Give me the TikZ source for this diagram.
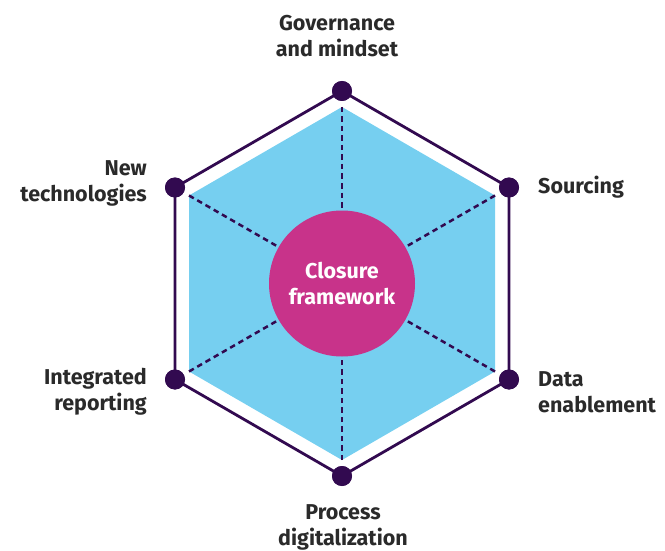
\documentclass[tikz,border=0pt]{standalone}
\usepackage{fontspec}
\setmainfont{Fira Sans}
\definecolor{hexline}{HTML}{320A50}
\definecolor{hexfill}{HTML}{76CFF0}
\definecolor{core}{HTML}{C8338A}
\definecolor{labeltext}{HTML}{2A2A2A}
\begin{document}
\begin{tikzpicture}[x=1pt,y=-1pt,
  dot/.style={circle,fill=hexline,inner sep=0pt,minimum size=20pt},
  lbl/.style={font=\fontsize{21.5}{26}\selectfont\bfseries,text=labeltext,align=center,inner sep=0pt},
  spoke/.style={hexline,line width=2.5pt,dash pattern=on 5.5pt off 4pt}]
\useasboundingbox (0,0) rectangle (665,551);
% outer hexagon vertices as dots
\node[dot] (t) at (342,91) {};
\node[dot] (ur) at (509,187.5) {};
\node[dot] (lr) at (509,379.5) {};
\node[dot] (b) at (342,476) {};
\node[dot] (ll) at (175,379.5) {};
\node[dot] (ul) at (175,187.5) {};
% inner hexagon
\coordinate (it) at (342,107);
\coordinate (iur) at (495,195.5);
\coordinate (ilr) at (495,371.5);
\coordinate (ib) at (342,460);
\coordinate (ill) at (189,371.5);
\coordinate (iul) at (189,195.5);
\fill[hexfill] (it) -- (iur) -- (ilr) -- (ib) -- (ill) -- (iul) -- cycle;
\draw[hexline,line width=2.8pt,line join=miter] (t.center) -- (ur.center) -- (lr.center) -- (b.center) -- (ll.center) -- (ul.center) -- cycle;
\foreach \n in {t,ur,lr,b,ll,ul}{\node[dot] at (\n) {};}
\coordinate (c) at (342,283.5);
\foreach \v in {it,iur,ilr,ib,ill,iul}{\draw[spoke] (\v) -- (c);}
\node[circle,fill=core,minimum size=146pt,inner sep=0pt,
  font=\fontsize{21.5}{26}\selectfont\bfseries,text=white,align=center] (core) at (c) {Closure\\framework};
% labels
\node[lbl] (lt) at (337,36) {Governance\\and mindset};
\node[lbl,anchor=west] (lur) at (538,187) {Sourcing};
\node[lbl,anchor=west,align=left] (llr) at (538,392) {Data\\enablement};
\node[lbl] (lb) at (343,527) {Process\\digitalization};
\node[lbl,anchor=east,align=right] (lll) at (147,392) {Integrated\\reporting};
\node[lbl,anchor=east,align=right] (lul) at (147,183) {New\\technologies};
\end{tikzpicture}
\end{document}
